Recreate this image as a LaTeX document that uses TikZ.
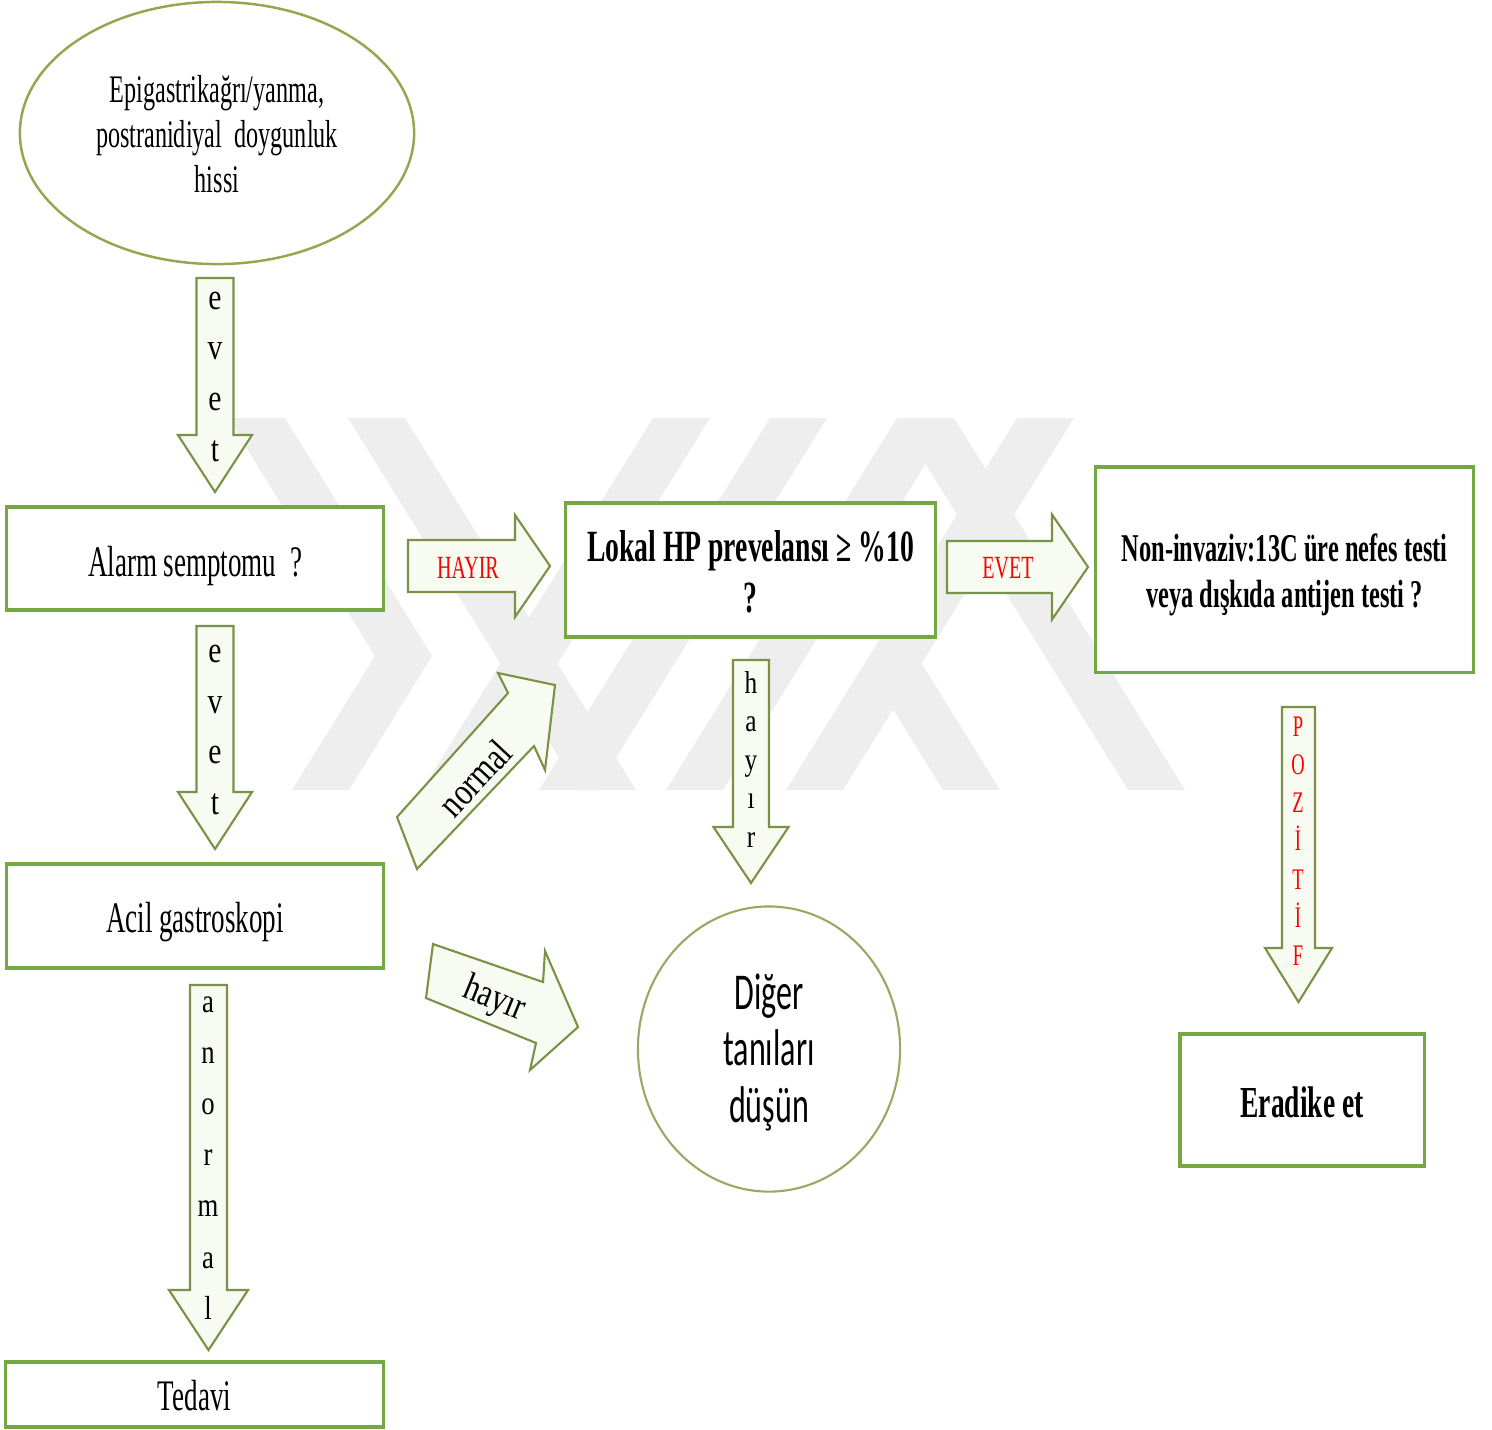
\documentclass[tikz,border=0pt]{standalone}
\usepackage{fontspec}
\setmainfont{Liberation Serif}[FakeStretch=0.62]
\newfontfamily\letterfont{Liberation Serif}[FakeStretch=0.8]
\newfontfamily\calfont{Carlito}[FakeStretch=0.62]
\usetikzlibrary{shapes.geometric}
\definecolor{boxgreen}{RGB}{115,168,66}
\definecolor{arrowline}{RGB}{122,146,70}
\definecolor{arrowfill}{RGB}{247,251,242}
\definecolor{ellline}{RGB}{150,166,80}
\definecolor{circline}{RGB}{160,165,100}
\definecolor{wm}{RGB}{238,238,238}
\definecolor{redtxt}{RGB}{255,0,0}
\newcommand{\varrow}[7]{%
  \draw[barrow] ({#2-#6},#3) -- ({#2+#6},#3) -- ({#2+#6},#4) -- ({#2+#7},#4) -- (#2,#5) -- ({#2-#7},#4) -- ({#2-#6},#4) -- cycle;
  \coordinate (#1) at (#2,#5);}
\newcommand{\harrow}[7]{%
  \draw[barrow] (#3,{#2-#6}) -- (#4,{#2-#6}) -- (#4,{#2-#7}) -- (#5,#2) -- (#4,{#2+#7}) -- (#4,{#2+#6}) -- (#3,{#2+#6}) -- cycle;
  \coordinate (#1) at (#5,#2);}
\newcommand{\lowr}[2]{\raisebox{-#1}[\height][\depth]{#2}}
\tikzset{
  box/.style={draw=boxgreen, line width=0.9pt, fill=white, inner sep=0pt, align=center},
  barrow/.style={draw=arrowline, line width=0.6pt, fill=arrowfill, line join=miter},
  wmark/.style={fill=wm, draw=none},
  letter/.style={anchor=base, inner sep=0pt},
}
\begin{document}
\begin{tikzpicture}[x=0.01cm,y=-0.01cm]
\fill[white] (0,0) rectangle (1492,1429);
\useasboundingbox (0,0) rectangle (1492,1429);

% watermark
\fill[wmark] (228,418) -- (285,418) -- (432,656) -- (349,790) -- (292,790) -- (375,656) -- cycle;
\fill[wmark] (348,418) -- (405,418) -- (636,790) -- (579,790) -- cycle;
\fill[wmark] (653,418) -- (710,418) -- (479,790) -- (422,790) -- cycle;
\fill[wmark] (770,418) -- (827,418) -- (596,790) -- (539,790) -- cycle;
\fill[wmark] (897,418) -- (954,418) -- (723,790) -- (666,790) -- cycle;
\fill[wmark] (897,418) -- (954,418) -- (1185,790) -- (1128,790) -- cycle;
\fill[wmark] (1017,418) -- (1074,418) -- (843,790) -- (786,790) -- cycle;
\fill[wmark] (865,664) -- (922,664) -- (1000,790) -- (943,790) -- cycle;

% nodes
\node[draw=ellline, line width=0.7pt, fill=white, ellipse, minimum width=3.94cm, minimum height=2.62cm, inner sep=0pt, align=center, font=\fontsize{11.1}{12.9}\selectfont] (symp) at (217,133) {\lowr{0.01cm}{Epigastrikağrı/yanma,}\\\lowr{0.01cm}{postranidiyal\ \ doygunluk}\\\lowr{0.01cm}{hissi}};
\node[box, minimum width=3.76cm, minimum height=1.03cm, font=\fontsize{12.4}{14}\selectfont] (alarm) at (195,558.5) {\lowr{0.07cm}{Alarm semptomu\ \ ?}};
\node[box, minimum width=3.76cm, minimum height=1.04cm, font=\fontsize{12.4}{14}\selectfont] (acil) at (195,916) {\lowr{0.06cm}{Acil gastroskopi}};
\node[box, minimum width=3.77cm, minimum height=0.65cm, font=\fontsize{12.4}{14}\selectfont] (tedavi) at (194.5,1394.5) {\lowr{0.01cm}{Tedavi}};
\node[box, minimum width=3.69cm, minimum height=1.34cm, font=\bfseries\fontsize{12.7}{14.5}\selectfont] (lokal) at (750.5,570) {\lowr{0.02cm}{Lokal HP prevelansı ≥ \%10}\\\lowr{0.02cm}{?}};
\node[box, minimum width=3.77cm, minimum height=2.05cm, font=\bfseries\fontsize{11.2}{13}\selectfont] (test) at (1284.5,569.5) {\lowr{0.05cm}{Non-invaziv:13C üre nefes testi}\\\lowr{0.05cm}{veya dışkıda antijen testi ?}};
\node[box, minimum width=2.44cm, minimum height=1.32cm, font=\bfseries\fontsize{12.6}{14}\selectfont] (erad) at (1302,1100) {\lowr{0.02cm}{Eradike et}};
\node[ellipse, draw=circline, line width=0.6pt, fill=white, minimum width=2.62cm, minimum height=2.85cm, inner sep=0pt, align=center, font=\calfont\fontsize{14.7}{16.2}\selectfont] (diger) at (769,1049) {\lowr{0.035cm}{Diğer}\\\lowr{0.035cm}{tanıları}\\\lowr{0.035cm}{düşün}};

% block arrows
\varrow{a1}{215}{278}{435}{492}{18.5}{37}
\varrow{a2}{215}{626}{792}{849}{18.5}{37}
\varrow{a3}{208.5}{985}{1290}{1350}{18.5}{39.5}
\varrow{a4}{751}{660}{827}{883}{18}{37.5}
\varrow{a5}{1298.5}{707}{948}{1002}{16.5}{33.5}
\harrow{a6}{566}{408}{515}{550}{26}{51}
\harrow{a7}{567}{947}{1052}{1088}{26}{52.5}
\draw[barrow] (397,817) -- (508,693) -- (498,673) -- (555,685) -- (545,770) -- (534,746) -- (417,869) -- cycle;
\coordinate (a8) at (555,685);
\draw[barrow] (433,944) -- (543,982) -- (545,951) -- (578,1027) -- (530,1070) -- (536,1043) -- (426,998) -- cycle;
\coordinate (a9) at (578,1027);

% arrow labels
\node[font=\fontsize{9.2}{10}\selectfont, text=redtxt, inner sep=0pt] (lhayir) at (468,568) {HAYIR};
\node[font=\fontsize{9.2}{10}\selectfont, text=redtxt, inner sep=0pt] (levet) at (1008,568) {EVET};
\node[font=\letterfont\fontsize{11}{12}\selectfont, rotate=47, inner sep=0pt] (lnormal) at (475,778) {normal};
\node[font=\letterfont\fontsize{11}{12}\selectfont, rotate=-22, inner sep=0pt] (lhayir2) at (494,1000) {hayır};
\foreach \c [count=\i from 0] in {e,v,e,t}
  \node[letter, font=\letterfont\fontsize{10.5}{12}\selectfont] (e1-\i) at (215,{309+\i*50.7}) {\c};
\foreach \c [count=\i from 0] in {e,v,e,t}
  \node[letter, font=\letterfont\fontsize{10.5}{12}\selectfont] (e2-\i) at (215,{662.5+\i*50.7}) {\c};
\foreach \c [count=\i from 0] in {a,n,o,r,m,a,l}
  \node[letter, font=\letterfont\fontsize{9.5}{11}\selectfont] (an-\i) at (208,{1012+\i*51.2}) {\c};
\foreach \c [count=\i from 0] in {h,a,y,ı,r}
  \node[letter, font=\letterfont\fontsize{9}{10}\selectfont] (hy-\i) at (751,{693+\i*38.6}) {\c};
\foreach \c [count=\i from 0] in {P,O,Z,İ,T,İ,F}
  \node[letter, text=redtxt, font=\fontsize{8.5}{10}\selectfont] (pz-\i) at (1298,{736+\i*38.3}) {\c};
\end{tikzpicture}
\end{document}
